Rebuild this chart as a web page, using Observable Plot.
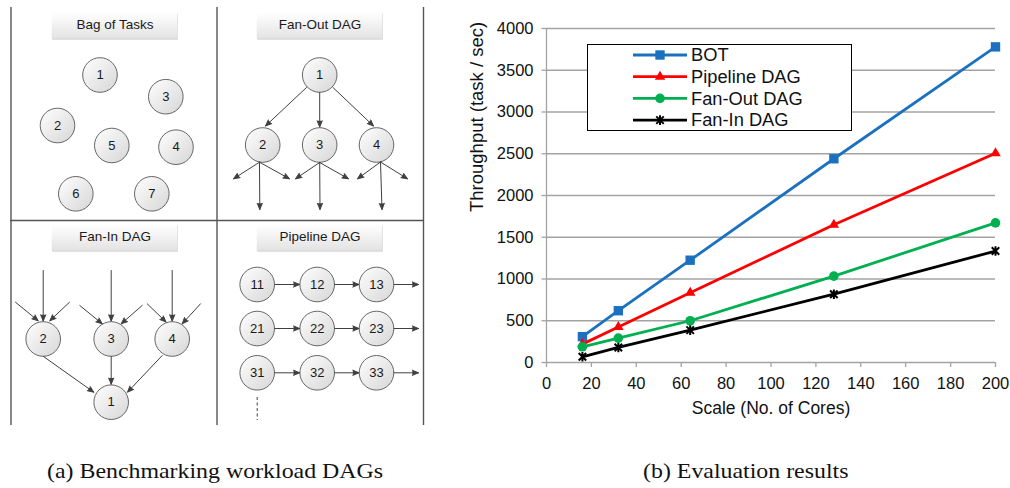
<!DOCTYPE html>
<html><head><meta charset="utf-8">
<script src="https://cdn.jsdelivr.net/npm/d3@7"></script>
<script src="https://cdn.jsdelivr.net/npm/@observablehq/plot@0.6"></script>
<style>
html,body{margin:0;padding:0;background:#fff;}
#root{position:relative;width:1010px;height:488px;overflow:hidden;background:#fff;}
#diagram{position:absolute;left:0;top:0;}
#chart{position:absolute;left:440px;top:0;}
#legend{position:absolute;left:587px;top:44px;}
.caption{position:absolute;font-family:"Liberation Serif","Times New Roman",serif;font-size:22px;line-height:22px;color:#111;white-space:nowrap;transform-origin:0 0;transform:scaleX(1.085);}
</style></head>
<body>
<svg width="0" height="0" style="position:absolute">
<defs>
<linearGradient id="nodeGrad" x1="0" y1="0" x2="1" y2="1"><stop offset="0" stop-color="#ffffff"/><stop offset="1" stop-color="#d6d6d6"/></linearGradient>
<linearGradient id="titleGrad" x1="0" y1="0" x2="0" y2="1"><stop offset="0" stop-color="#ffffff"/><stop offset="1" stop-color="#e3e3e3"/></linearGradient>
</defs></svg>
<div id="root">
  <div id="diagram"></div>
  <div id="chart"></div>
  <div id="legend"></div>
  <div class="caption" style="left:47px;top:459.5px;">(a) Benchmarking workload DAGs</div>
  <div class="caption" style="left:643px;top:459.5px;">(b) Evaluation results</div>
</div>
<script>
// ---------------- Chart data ----------------
const cores = [16, 32, 64, 128, 200];
const botValues = [310, 620, 1225, 2440, 3780];
const pipelineValues = [220, 425, 835, 1650, 2505];
const fanOutValues = [188, 292, 500, 1035, 1672];
const fanInValues = [68, 180, 388, 818, 1335];
const seriesNames = ["BOT", "Pipeline DAG", "Fan-Out DAG", "Fan-In DAG"];
const xTicks = [0, 20, 40, 60, 80, 100, 120, 140, 160, 180, 200];
const yTicks = [0, 500, 1000, 1500, 2000, 2500, 3000, 3500, 4000];
const xTitle = "Scale (No. of Cores)";
const yTitle = "Throughput (task / sec)";

// ---------------- Diagram data ----------------
const panelTitles = ["Bag of Tasks", "Fan-Out DAG", "Fan-In DAG", "Pipeline DAG"];
const bagNodes = [
  {label: "1", x: 99.5, y: 74.5}, {label: "3", x: 165.3, y: 96.2}, {label: "2", x: 57, y: 125},
  {label: "5", x: 111.3, y: 145}, {label: "4", x: 175.5, y: 146.7}, {label: "6", x: 75.3, y: 193.3},
  {label: "7", x: 151.3, y: 193.3}
];
const fanOutNodes = [
  {label: "1", x: 319.2, y: 74.5}, {label: "2", x: 262.2, y: 144.5},
  {label: "3", x: 319.2, y: 144.5}, {label: "4", x: 376, y: 144.5}
];
const fanInNodes = [
  {label: "2", x: 42.7, y: 338.5}, {label: "3", x: 110.7, y: 338.5},
  {label: "4", x: 171.7, y: 338.5}, {label: "1", x: 110.7, y: 401.7}
];
const pipelineNodes = [
  {label: "11", x: 256.7, y: 284}, {label: "12", x: 316.7, y: 284}, {label: "13", x: 376, y: 284},
  {label: "21", x: 256.7, y: 328}, {label: "22", x: 316.7, y: 328}, {label: "23", x: 376, y: 328},
  {label: "31", x: 256.7, y: 372.3}, {label: "32", x: 316.7, y: 372.3}, {label: "33", x: 376, y: 372.3}
];
const fanOutArrows = [
  [306, 87, 265, 125.5], [319.2, 92, 319.2, 126.5], [332.5, 87, 373, 125.5],
  [259, 161.7, 233, 178.3], [259, 161.7, 259.3, 209], [259, 161.7, 289, 178.3],
  [319.2, 162, 295, 178.3], [319.2, 162, 319.5, 209], [319.2, 162, 348, 178.3],
  [380, 161.5, 357, 178.3], [380, 161.5, 381.5, 209], [380, 161.5, 407, 178.3]
];
const fanInArrows = [
  [42.7, 270, 42.7, 320.5], [15, 301.7, 37.7, 320.3], [69, 301.7, 49.3, 320.3],
  [110.7, 270, 110.7, 320.5], [79.3, 305, 101.7, 323.3], [141.7, 305, 120.7, 323.3],
  [171.7, 270, 171.7, 320.5], [146.7, 303.3, 165.5, 321.5], [200, 303.3, 181.7, 323.3],
  [43, 356, 93.3, 391.7], [110.7, 356, 110.7, 383.7], [161.7, 355, 127, 391.7]
];
const pipelineArrows = [
  [274.2, 284, 299.2, 284], [334.2, 284, 358.5, 284], [393.5, 284, 418, 284],
  [274.2, 328, 299.2, 328], [334.2, 328, 358.5, 328], [393.5, 328, 418, 328],
  [274.2, 372.3, 299.2, 372.3], [334.2, 372.3, 358.5, 372.3], [393.5, 372.3, 418, 372.3]
];
const titleBoxes = [
  {x1: 51.7, x2: 177.3, y1: 12.5, y2: 38.5},
  {x1: 256.7, x2: 382.3, y1: 12.5, y2: 38.5},
  {x1: 51.7, x2: 177.3, y1: 224.5, y2: 250.5},
  {x1: 256.7, x2: 382.3, y1: 224.5, y2: 250.5}
];
const panelXs = [10.5, 216.5, 423];
const panelY = 220;

// ---------------- Diagram ----------------
const allNodes = [...bagNodes, ...fanOutNodes, ...fanInNodes, ...pipelineNodes];
const allArrows = [...fanOutArrows, ...fanInArrows, ...pipelineArrows]
  .map(([x1, y1, x2, y2]) => ({x1, y1, x2, y2}));
const titles = titleBoxes.map((b, i) => ({...b, name: panelTitles[i], cx: (b.x1 + b.x2) / 2, cy: (b.y1 + b.y2) / 2 - 1}));
const font = "'Liberation Sans', Arial, Helvetica, sans-serif";

const diagram = Plot.plot({
  width: 430, height: 430,
  margin: 0,
  x: {domain: [0, 430], range: [0, 430], axis: null},
  y: {domain: [0, 430], range: [0, 430], axis: null},
  style: {fontFamily: font, background: "transparent"},
  marks: [
    Plot.ruleX(panelXs, {x: d => d, y1: 7, y2: 425, stroke: "#555", strokeWidth: 1.4}),
    Plot.ruleY([panelY], {y: d => d, x1: 10, x2: 423.5, stroke: "#555", strokeWidth: 1.4}),
    Plot.rect(titles, {x1: "x1", x2: "x2", y1: "y1", y2: "y2", dx: 0.5, dy: 1.2, fill: "#d4d4d4"}),
    Plot.rect(titles, {x1: "x1", x2: "x2", y1: "y1", y2: "y2", fill: "url(#titleGrad)"}),
    Plot.text(titles, {x: "cx", y: "cy", text: "name", fontSize: 13.5, fill: "#1a1a1a"}),
    Plot.dot(allNodes, {x: "x", y: "y", r: 17.3, fill: "url(#nodeGrad)", stroke: "#666", strokeWidth: 1}),
    Plot.text(allNodes, {x: "x", y: "y", text: "label", fontSize: 13, fill: "#1a1a1a"}),
    Plot.arrow(allArrows, {x1: "x1", y1: "y1", x2: "x2", y2: "y2", stroke: "#404040", fill: "#404040", strokeWidth: 1, headLength: 10, headAngle: 45}),
    Plot.ruleX([256.7], {x: d => d, y1: 397, y2: 420, stroke: "#404040", strokeWidth: 1, strokeDasharray: "3,2.5"})
  ]
});
document.getElementById("diagram").appendChild(diagram);

// ---------------- Chart ----------------
const starSymbol = {
  draw(ctx, size) {
    const h = Math.sqrt(size / Math.PI);
    const d = h * 0.78;
    ctx.moveTo(0, -h); ctx.lineTo(0, h);
    ctx.moveTo(-d, -d); ctx.lineTo(d, d);
    ctx.moveTo(-d, d); ctx.lineTo(d, -d);
  }
};
const seriesValues = [botValues, pipelineValues, fanOutValues, fanInValues];
const seriesStyle = [
  {color: "#1b71c0", symbol: "square", r: 5.3, fill: "#1b71c0", sw: 0},
  {color: "#ff0000", symbol: "triangle", r: 3.9, fill: "#ff0000", sw: 0},
  {color: "#00b050", symbol: "circle", r: 4.8, fill: "#00b050", sw: 0},
  {color: "#000000", symbol: starSymbol, r: 4.8, fill: "none", sw: 2}
];
const seriesData = seriesValues.map((vals, s) => cores.map((c, i) => ({cores: c, value: vals[i], series: seriesNames[s]})));

const seriesMarks = seriesData.flatMap((data, s) => {
  const st = seriesStyle[s];
  return [
    Plot.line(data, {x: "cores", y: "value", stroke: st.color, strokeWidth: 2.8}),
    Plot.dot(data, {x: "cores", y: "value", symbol: () => st.symbol, r: st.r,
      fill: st.fill, stroke: st.sw ? st.color : "none", strokeWidth: st.sw})
  ];
});

const chart = Plot.plot({
  width: 570, height: 430,
  marginLeft: 106, marginRight: 15, marginTop: 28, marginBottom: 68,
  x: {domain: [0, 200]},
  y: {domain: [0, 4000]},
  symbol: {type: "identity"},
  style: {fontFamily: font, background: "transparent", color: "#111"},
  marks: [
    Plot.gridY({ticks: yTicks, stroke: "#a3a3a3", strokeOpacity: 1, strokeWidth: 1.3}),
    Plot.axisY({ticks: yTicks, tickSize: 4.5, tickPadding: 8.5, stroke: "#a3a3a3", strokeWidth: 1.3, fill: "#111", fontSize: 16.5, label: null, tickFormat: d => String(d)}),
    Plot.axisX({ticks: xTicks, tickSize: 5, tickPadding: 10, stroke: "#a3a3a3", strokeWidth: 1.3, fill: "#111", fontSize: 16.5, label: null, tickFormat: d => String(d)}),
    Plot.ruleX([0], {x: d => d, stroke: "#a3a3a3", strokeWidth: 1.3}),
    Plot.text([xTitle], {text: d => d, frameAnchor: "bottom", dy: 51, fontSize: 17.5, fill: "#111"}),
    Plot.text([yTitle], {text: d => d, frameAnchor: "left", dx: -69, dy: 16.5, rotate: -90, fontSize: 18.5, fill: "#111"}),
    ...seriesMarks
  ]
});
document.getElementById("chart").appendChild(chart);

// ---------------- Legend ----------------
const lg = d3.select("#legend").append("svg").attr("width", 266).attr("height", 88)
  .style("font-family", font);
lg.append("rect").attr("x", 0.5).attr("y", 0.5).attr("width", 264).attr("height", 86)
  .attr("fill", "#fff").attr("stroke", "#000").attr("stroke-width", 1);
seriesNames.forEach((name, i) => {
  const st = seriesStyle[i];
  const y = 11 + i * 21.7;
  lg.append("line").attr("x1", 46).attr("x2", 100).attr("y1", y).attr("y2", y)
    .attr("stroke", st.color).attr("stroke-width", 2.8);
  const sym = typeof st.symbol === "string"
    ? {square: d3.symbolSquare, triangle: d3.symbolTriangle, circle: d3.symbolCircle}[st.symbol]
    : st.symbol;
  lg.append("path").attr("transform", `translate(73,${y})`)
    .attr("d", d3.symbol(sym, st.r * st.r * Math.PI)())
    .attr("fill", st.fill).attr("stroke", st.sw ? st.color : "none").attr("stroke-width", st.sw);
  lg.append("text").attr("x", 104).attr("y", y + 6.3).attr("font-size", 18.3).attr("fill", "#111").text(name);
});
</script>
</body></html>
